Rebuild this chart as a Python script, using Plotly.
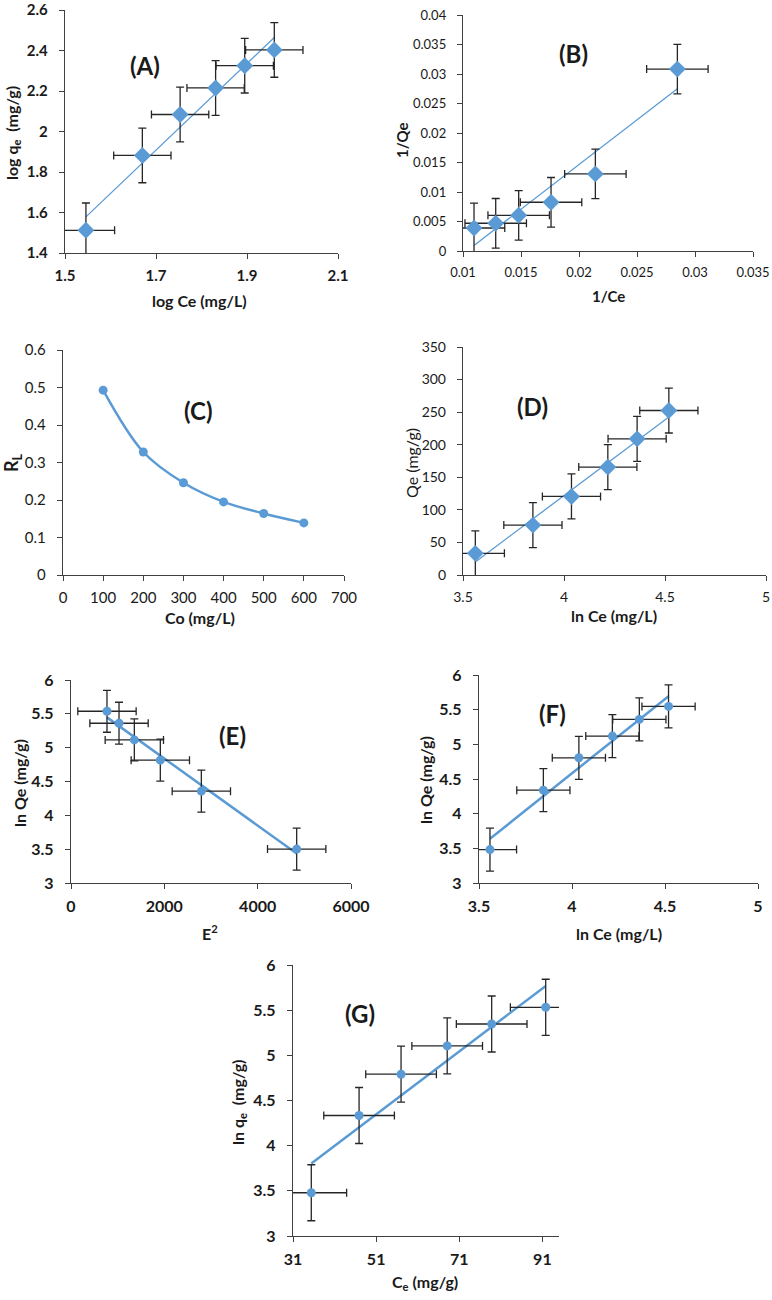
import numpy as np
import plotly.graph_objects as go

W, H = 772, 1300
BLUE = '#5B9BD5'
ERR = '#262626'
AXC = '#404040'
FONT = 'Lato'

# ---------------- data ----------------
# (A) Freundlich
a_x = [1.546, 1.670, 1.753, 1.831, 1.895, 1.960]
a_y = [1.512, 1.882, 2.084, 2.215, 2.325, 2.403]
a_xerr, a_yerr = 0.063, 0.135
a_xt = [1.5, 1.7, 1.9, 2.1]
a_xtt = ['1.5', '1.7', '1.9', '2.1']
a_yt = [1.4, 1.6, 1.8, 2.0, 2.2, 2.4, 2.6]
a_ytt = ['1.4', '1.6', '1.8', '2', '2.2', '2.4', '2.6']

# (B) Langmuir
b_x = [0.01095, 0.01282, 0.0148, 0.01759, 0.02141, 0.02848]
b_y = [0.0039, 0.0047, 0.00605, 0.00826, 0.01307, 0.03083]
b_xerr, b_yerr = 0.00265, 0.0042
b_xt = [0.01, 0.015, 0.02, 0.025, 0.03, 0.035]
b_xtt = ['0.01', '0.015', '0.02', '0.025', '0.03', '0.035']
b_yt = [0, 0.005, 0.01, 0.015, 0.02, 0.025, 0.03, 0.035, 0.04]
b_ytt = ['0', '0.005', '0.01', '0.015', '0.02', '0.025', '0.03', '0.035', '0.04']

# (C) separation factor
c_x = [100, 200, 300, 400, 500, 600]
c_y = [0.493, 0.328, 0.246, 0.195, 0.164, 0.139]
c_xt = [0, 100, 200, 300, 400, 500, 600, 700]
c_xtt = ['0', '100', '200', '300', '400', '500', '600', '700']
c_yt = [0, 0.1, 0.2, 0.3, 0.4, 0.5, 0.6]
c_ytt = ['0', '0.1', '0.2', '0.3', '0.4', '0.5', '0.6']

# (D) Temkin
d_x = [3.561, 3.846, 4.037, 4.217, 4.362, 4.519]
d_y = [33.2, 76.6, 120.6, 165.6, 209.0, 252.5]
d_xerr, d_yerr = 0.144, 34.5
d_xt = [3.5, 4, 4.5, 5]
d_xtt = ['3.5', '4', '4.5', '5']
d_yt = [0, 50, 100, 150, 200, 250, 300, 350]
d_ytt = ['0', '50', '100', '150', '200', '250', '300', '350']

# (E) D-R
e_x = [771, 1029, 1357, 1914, 2793, 4836]
e_y = [5.538, 5.361, 5.115, 4.815, 4.357, 3.501]
e_xerr, e_yerr = 625, 0.31
e_xt = [0, 2000, 4000, 6000]
e_xtt = ['0', '2000', '4000', '6000']
lnq_yt = [3, 3.5, 4, 4.5, 5, 5.5, 6]
lnq_ytt = ['3', '3.5', '4', '4.5', '5', '5.5', '6']

# (F) Halsey
f_x = [3.559, 3.846, 4.037, 4.217, 4.362, 4.519]
f_y = [3.482, 4.339, 4.806, 5.119, 5.359, 5.547]
f_xerr, f_yerr = 0.143, 0.31
f_xt = [3.5, 4, 4.5, 5]
f_xtt = ['3.5', '4', '4.5', '5']

# (G) Ce vs ln qe
g_x = [35.4, 46.9, 57.0, 68.1, 78.8, 91.8]
g_y = [3.479, 4.334, 4.791, 5.104, 5.347, 5.532]
g_xerr, g_yerr = 8.5, 0.31
g_xt = [31, 51, 71, 91]
g_xtt = ['31', '51', '71', '91']

fig = go.Figure()

def dom(x0, x1, y0, y1):
    return [x0 / W, x1 / W], [1 - y1 / H, 1 - y0 / H]

def add_axes(i, box, xr, yr, xt, xtt, yt, ytt, bold, size, xsize=None):
    xd, yd = dom(*box)
    def tf(s):
        return dict(family=FONT, size=s, color='#1a1a1a', weight='bold' if bold else 'normal')
    common = dict(showgrid=False, zeroline=False, showline=True, linecolor=AXC, linewidth=1.4,
                  ticks='outside', ticklen=5, tickwidth=1.2, tickcolor=AXC,
                  tickmode='array', automargin=False, ticklabeloverflow='allow')
    sfx = '' if i == 1 else str(i)
    fig.layout['xaxis' + sfx] = dict(domain=xd, range=xr, tickvals=xt, ticktext=xtt,
                                     tickfont=tf(xsize or size),
                                     anchor='y' + sfx, ticklabelstandoff=4, **common)
    fig.layout['yaxis' + sfx] = dict(domain=yd, range=yr, tickvals=yt, ticktext=ytt,
                                     tickfont=tf(size),
                                     anchor='x' + sfx, ticklabelstandoff=8, **common)

def add_fit(i, xs, ys, width):
    sfx = '' if i == 1 else str(i)
    k, b = np.polyfit(xs, ys, 1)
    lx = np.array([min(xs), max(xs)])
    fig.add_trace(go.Scatter(x=lx, y=k * lx + b, mode='lines', line=dict(color=BLUE, width=width),
                             xaxis='x' + sfx, yaxis='y' + sfx, showlegend=False, hoverinfo='skip'))

def add_pts(i, xs, ys, xe, ye, symbol, msize):
    sfx = '' if i == 1 else str(i)
    eb = dict(type='constant', color=ERR, thickness=1.3, width=4)
    fig.add_trace(go.Scatter(x=xs, y=ys, mode='markers',
                             marker=dict(symbol=symbol, size=msize, color=BLUE),
                             error_x=dict(value=xe, **eb), error_y=dict(value=ye, **eb),
                             xaxis='x' + sfx, yaxis='y' + sfx, showlegend=False))

ann = []
def txt(x, y, s, size, angle=0, bold=True):
    ann.append(dict(x=x / W, y=1 - y / H, xref='paper', yref='paper', text=s, showarrow=False,
                    xanchor='center', yanchor='middle', textangle=angle,
                    font=dict(family=FONT, size=size, color='#1a1a1a',
                              weight='bold' if bold else 'normal')))

TT, PL = 16, 24

# A
add_axes(1, (65, 338, 10, 253), [1.5, 2.1], [1.4, 2.6], a_xt, a_xtt, a_yt, a_ytt, True, 15)
add_fit(1, a_x, a_y, 1.3)
add_pts(1, a_x, a_y, a_xerr, a_yerr, 'diamond', 13)
txt(200, 300, 'log Ce (mg/L)', TT)
txt(12, 133, 'log q<sub>e</sub>  (mg/g)', TT, -90)
txt(145, 65, '(A)', PL)

# B
add_axes(2, (463, 753, 15, 251), [0.01, 0.035], [0, 0.04], b_xt, b_xtt, b_yt, b_ytt, False, 13, 13)
add_fit(2, b_x, b_y, 1.3)
add_pts(2, b_x, b_y, b_xerr, b_yerr, 'diamond', 13)
txt(608, 296, '1/Ce', 15)
txt(402, 140, '1/Qe', 15, -90)
txt(573, 53, '(B)', PL)

# C
add_axes(3, (63, 344, 350, 575), [0, 700], [0, 0.6], c_xt, c_xtt, c_yt, c_ytt, False, 15)
fig.add_trace(go.Scatter(x=c_x, y=c_y, mode='lines+markers', line=dict(color=BLUE, width=2.5, shape='spline'),
                         marker=dict(symbol='circle', size=9, color=BLUE),
                         xaxis='x3', yaxis='y3', showlegend=False))
txt(200, 617, 'Co (mg/L)', TT)
txt(12, 463, 'R<sub>L</sub>', 18, -90)
txt(198, 410, '(C)', PL)

# D
add_axes(4, (463, 766, 347, 575), [3.5, 5], [0, 350], d_xt, d_xtt, d_yt, d_ytt, False, 14)
add_fit(4, d_x, d_y, 1.3)
add_pts(4, d_x, d_y, d_xerr, d_yerr, 'diamond', 13)
txt(614, 615, 'ln Ce (mg/L)', TT)
txt(411, 463, 'Qe (mg/g)', 16, -90, bold=False)
txt(532, 407, '(D)', PL)

# E
add_axes(5, (71, 351, 680, 883), [0, 6000], [3, 6], e_xt, e_xtt, lnq_yt, lnq_ytt, True, 16)
add_fit(5, e_x, e_y, 2.5)
add_pts(5, e_x, e_y, e_xerr, e_yerr, 'circle', 9)
txt(210, 932, 'E<sup>2</sup>', TT)
txt(19, 783, 'ln Qe (mg/g)', TT, -90)
txt(232, 735, '(E)', PL)

# F
add_axes(6, (479, 758, 675, 883), [3.5, 5], [3, 6], f_xt, f_xtt, lnq_yt, lnq_ytt, True, 16)
add_fit(6, f_x, f_y, 2.5)
add_pts(6, f_x, f_y, f_xerr, f_yerr, 'circle', 9)
txt(619, 933, 'ln Ce (mg/L)', TT)
txt(425, 780, 'ln Qe (mg/g)', TT, -90)
txt(552, 713, '(F)', PL)

# G
add_axes(7, (293, 559, 965, 1236), [31, 95], [3, 6], g_xt, g_xtt, lnq_yt, lnq_ytt, True, 16)
add_fit(7, g_x, g_y, 2.5)
add_pts(7, g_x, g_y, g_xerr, g_yerr, 'circle', 9)
txt(425, 1282, 'C<sub>e</sub> (mg/g)', 16)
txt(238, 1102, 'ln q<sub>e</sub>  (mg/g)', TT, -90)
txt(360, 1013, '(G)', PL)

fig.update_layout(width=W, height=H, margin=dict(l=0, r=0, t=0, b=0, autoexpand=False),
                  paper_bgcolor='white', plot_bgcolor='white', annotations=ann,
                  font=dict(family=FONT))
fig.write_html('out.html', config={'displayModeBar': False},
               post_script="document.body.style.margin='0';")
